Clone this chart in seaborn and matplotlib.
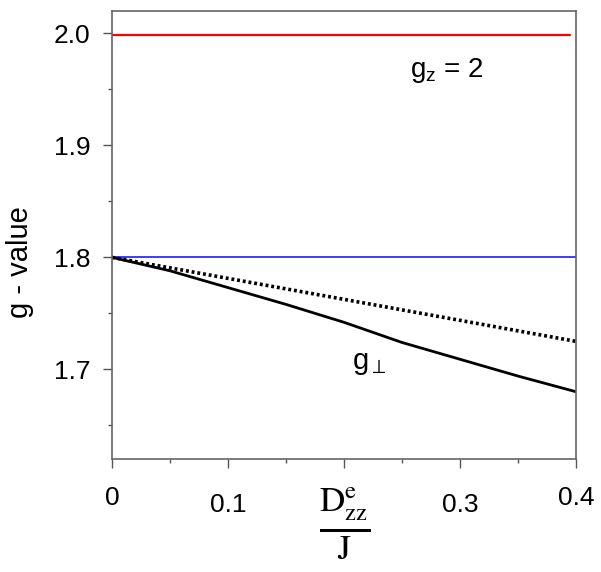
import matplotlib
matplotlib.use("Agg")
import matplotlib.pyplot as plt
import seaborn as sns
import numpy as np

# data
x_perp = [0.0, 0.05, 0.1, 0.15, 0.2, 0.25, 0.3, 0.35, 0.4]
g_perp = [1.800, 1.788, 1.773, 1.758, 1.742, 1.724, 1.709, 1.694, 1.680]
x_dot = [0.0, 0.4]
g_dot = [1.800, 1.725]
x_gz = [0.0, 0.395]
g_gz = [1.999, 1.999]
x_ref = [0.0, 0.4]
g_ref = [1.800, 1.800]

xticks = [0, 0.1, 0.2, 0.3, 0.4]
xticklabels = ['0', '0.1', '', '0.3', '0.4']
yticks = [1.7, 1.8, 1.9, 2.0]
yticklabels = ['1.7', '1.8', '1.9', '2.0']

sns.set_style("ticks")
plt.rcParams['font.family'] = ['Liberation Sans', 'DejaVu Sans']
plt.rcParams['mathtext.fontset'] = 'custom'
plt.rcParams['mathtext.rm'] = 'Liberation Sans'
plt.rcParams['mathtext.it'] = 'Liberation Sans'
plt.rcParams['text.color'] = 'black'
plt.rcParams['axes.labelcolor'] = 'black'
plt.rcParams['xtick.labelcolor'] = 'black'
plt.rcParams['ytick.labelcolor'] = 'black'

fig = plt.figure(figsize=(6.01, 5.72), dpi=100)
ax = fig.add_axes([0.1864, 0.1976, 0.7722, 0.7832])

sns.lineplot(x=x_gz, y=g_gz, color='#ff0000', linewidth=1.6, ax=ax)
sns.lineplot(x=x_ref, y=g_ref, color='#1a1aff', linewidth=1.2, ax=ax)
sns.lineplot(x=x_dot, y=g_dot, color='black', linewidth=2.6, linestyle=(0, (0.8, 0.8)), ax=ax)
sns.lineplot(x=x_perp, y=g_perp, color='black', linewidth=2.0, ax=ax)

ax.set_xlim(0, 0.4)
ax.set_ylim(1.62, 2.02)
ax.set_xticks(xticks)
ax.set_xticklabels(xticklabels)
ax.set_yticks(yticks)
ax.set_yticklabels(yticklabels)
ax.set_xticks(np.arange(0.05, 0.4, 0.1), minor=True)
ax.set_yticks([1.65, 1.75, 1.85, 1.95], minor=True)

ax.tick_params(which='major', length=6.5, width=1.0, color='#555555',
               labelsize=19, direction='out', labelcolor='black')
ax.tick_params(axis='y', which='major', pad=9)
ax.tick_params(which='minor', length=3, width=1.0, color='#555555', direction='out')
ax.tick_params(axis='x', which='major', pad=13)
for i, t in enumerate(ax.xaxis.get_major_ticks()):
    if i in (1, 3):
        t.set_pad(18)

for s in ax.spines.values():
    s.set_visible(True)
    s.set_color('#666666')
    s.set_linewidth(1.2)

ax.set_ylabel('g - value', fontsize=21, color='black')
ax.yaxis.set_label_coords(-0.168, 0.44)
ax.set_xlabel('')

ax.text(0.2, -0.06, r'$\frac{\mathrm{D}^{\mathrm{e}}_{\mathrm{zz}}}{\mathrm{J}}$',
        transform=ax.get_xaxis_transform(), ha='center', va='top', fontsize=36,
        math_fontfamily='stix', color='black')

ax.text(0.289, 1.967, r'g$_z$ = 2', fontsize=20, ha='center', va='center', color='black')
ax.text(0.222, 1.706, r'g$_\perp$', fontsize=21, ha='center', va='center', color='black')

fig.savefig('out.png', dpi=100)
